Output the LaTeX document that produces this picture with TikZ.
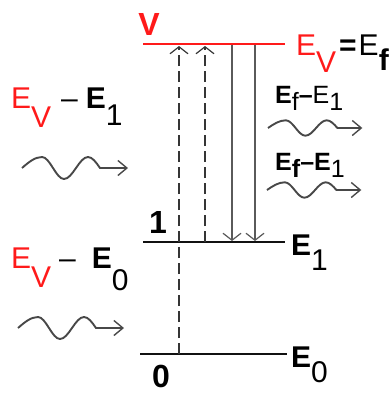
\documentclass[tikz,border=0pt]{standalone}
\usepackage{fontspec}
\setmainfont{Liberation Sans}
\usetikzlibrary{arrows.meta}
\definecolor{lvred}{HTML}{FF1A1A}
\definecolor{lvink}{HTML}{111111}
\definecolor{lvgray}{HTML}{5A5A5A}
\definecolor{lvwave}{HTML}{484848}
\newcommand\dn[2]{\raisebox{-#1pt}{#2}}
\tikzset{
  level/.style={draw=lvink,line width=2.6pt},
  vlevel/.style={draw=lvred,line width=2.6pt},
  excite/.style={-{Straight Barb[length=7pt,width=18pt,line width=1.2pt]},draw=lvink!85,line width=1.4pt,dash pattern=on 11pt off 5pt},
  decay/.style={-{Straight Barb[length=7pt,width=18pt,line width=1.2pt]},draw=lvgray,line width=1.5pt},
  wave/.style={-{Straight Barb[length=9pt,width=15pt,line width=1.4pt]},draw=lvwave,line width=1.9pt},
  big/.style={inner sep=0pt,anchor=base west,font=\fontsize{30}{30}\selectfont},
  small/.style={inner sep=0pt,anchor=base west,font=\fontsize{25}{25}\selectfont},
  num/.style={inner sep=0pt,anchor=base,font=\fontsize{32}{32}\selectfont\bfseries},
  photon/.pic={\draw[wave] (0,0) sin (20,-11) cos (31,0) sin (42,11) cos (54,0) sin (66,-11) cos (78,0) -- (106,0);},
}
\begin{document}
\begin{tikzpicture}[x=1pt,y=-1pt]
  \useasboundingbox (0,0) rectangle (390,394);
  % levels
  \coordinate (vL) at (143,44);  \coordinate (vR) at (285,44);
  \coordinate (e1L) at (143,242); \coordinate (e1R) at (285,242);
  \coordinate (e0L) at (140,354); \coordinate (e0R) at (287,354);
  \draw[vlevel] (vL) -- (vR);
  \draw[level] (e1L) -- (e1R);
  \draw[level] (e0L) -- (e0R);
  % transitions
  \coordinate (up1) at (179,0); \coordinate (up2) at (205,0);
  \coordinate (dn1) at (232,0); \coordinate (dn2) at (255,0);
  \draw[excite] (up1 |- e0L) -- ([yshift=-2pt]up1 |- vL);
  \draw[excite] (up2 |- e1L) -- ([yshift=-2pt]up2 |- vL);
  \draw[decay] ([yshift=-1pt]dn1 |- vL) -- ([yshift=1pt]dn1 |- e1L);
  \draw[decay] ([yshift=-1pt]dn2 |- vL) -- ([yshift=1pt]dn2 |- e1L);
  % level labels
  \node[num,text=lvred] (vlab) at (149,35) {V};
  \node[num] (onelab) at (158,233) {1};
  \node[num] (zerolab) at (161,387) {0};
  \node[big] (evef) at (296,55) {\textcolor{lvred}{E\dn{17}{V}}\kern3pt\textbf{=}\kern2pt E\dn{15}{\textbf{f}}};
  \node[big] (e1lab) at (291,255) {\textbf{E}\dn{15}{1}};
  \node[big] (e0lab) at (291,367) {\textbf{E}\dn{15}{0}};
  % incoming photons
  \node[big] (inlab1) at (11,108) {\textcolor{lvred}{E\dn{19}{V}}\kern10pt–\kern8pt\textbf{E}\dn{17}{1}};
  \node[big] (inlab0) at (11,268) {\textcolor{lvred}{E\dn{19}{V}}\kern8pt–\kern16pt\textbf{E}\dn{22}{0}};
  \pic at (22,168) {photon};
  \pic at (18,328) {photon};
  % emitted photons
  \node[small] (outlab1) at (275,103) {\textbf{E}\dn{7}{f}\kern1pt\textbf{\kern-1pt–\kern-2pt}\kern2pt E\dn{7}{1}};
  \node[small] (outlab2) at (275,170) {\textbf{E}\dn{7}{\textbf{f}}\kern1pt\textbf{\kern-1pt–\kern-2pt}\kern2pt\textbf{E}\dn{7}{1}};
  \pic[xscale=0.89,yscale=0.7] at (268,128) {photon};
  \pic[xscale=0.89,yscale=0.7] at (267,190) {photon};
\end{tikzpicture}
\end{document}
